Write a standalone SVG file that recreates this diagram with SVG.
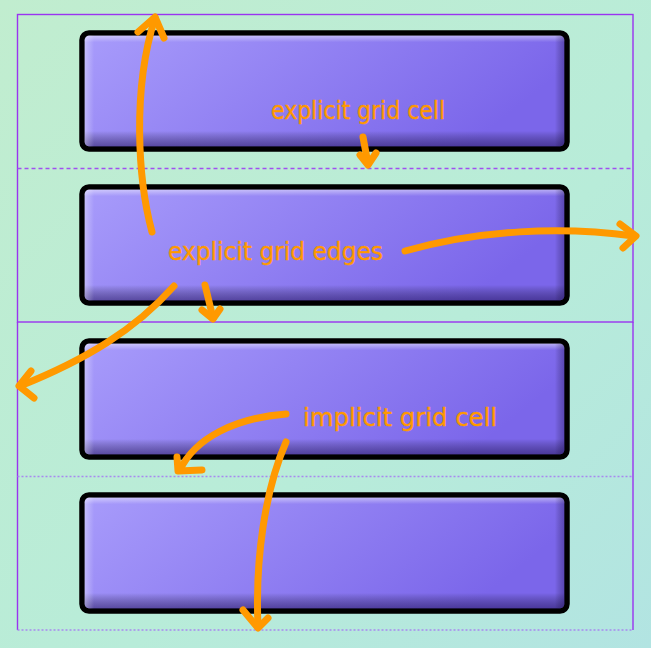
<svg xmlns="http://www.w3.org/2000/svg" width="651" height="648" viewBox="0 0 651 648">
<defs>
<linearGradient id="bg" x1="0" y1="0" x2="1" y2="1">
<stop offset="0" stop-color="#c1edcf"/>
<stop offset="0.6" stop-color="#b8ecd9"/>
<stop offset="1" stop-color="#b2e4e2"/>
</linearGradient>
<linearGradient id="boxfill" x1="0" y1="0" x2="1" y2="0.3">
<stop offset="0" stop-color="#a89cfb"/>
<stop offset="1" stop-color="#7b66ea"/>
</linearGradient>
<linearGradient id="bevelV" x1="0" y1="0" x2="0" y2="1">
<stop offset="0" stop-color="#ffffff" stop-opacity="0.45"/>
<stop offset="0.06" stop-color="#ffffff" stop-opacity="0"/>
<stop offset="0.86" stop-color="#000000" stop-opacity="0"/>
<stop offset="1" stop-color="#1a0a50" stop-opacity="0.5"/>
</linearGradient>
<linearGradient id="bevelH" x1="0" y1="0" x2="1" y2="0">
<stop offset="0" stop-color="#ffffff" stop-opacity="0.35"/>
<stop offset="0.02" stop-color="#ffffff" stop-opacity="0"/>
<stop offset="0.98" stop-color="#000000" stop-opacity="0"/>
<stop offset="1" stop-color="#1a0a50" stop-opacity="0.35"/>
</linearGradient>
</defs>
<style>
.grid{fill:none;stroke:#9a33f0;stroke-width:1.4}
.dash{fill:none;stroke:#a050f0;stroke-width:1.3;stroke-dasharray:4 3}
.dot{fill:none;stroke:#a888f0;stroke-width:1.3;stroke-dasharray:2 2}
.box{fill:url(#boxfill);stroke:#000;stroke-width:5.5}
.bv{fill:url(#bevelV)}
.bh{fill:url(#bevelH)}
.arr{fill:none;stroke:#ff9900;stroke-width:7;stroke-linecap:round;stroke-linejoin:round}
.lbl{font-family:"DejaVu Sans",sans-serif;font-size:25px;fill:#ff9900;stroke:#ff9900;stroke-width:0.4}
</style>
<rect width="651" height="648" fill="url(#bg)"/>
<g id="gridlines">
<rect class="grid" x="17.5" y="14.5" width="615.5" height="307.5"/>
<line class="dash" x1="17.5" y1="168.5" x2="633" y2="168.5"/>
<line class="grid" x1="17.5" y1="322" x2="17.5" y2="630"/>
<line class="grid" x1="633" y1="322" x2="633" y2="630"/>
<line class="dot" x1="17.5" y1="476.5" x2="633" y2="476.5"/>
<line class="dot" x1="17.5" y1="630" x2="633" y2="630"/>
</g>
<g id="box1">
<rect class="box" x="82" y="33" width="485" height="116" rx="7"/>
<rect class="bv" x="84.5" y="35.5" width="480" height="111" rx="5"/>
<rect class="bh" x="84.5" y="35.5" width="480" height="111" rx="5"/>
</g>
<g id="box2">
<rect class="box" x="82" y="187" width="485" height="116" rx="7"/>
<rect class="bv" x="84.5" y="189.5" width="480" height="111" rx="5"/>
<rect class="bh" x="84.5" y="189.5" width="480" height="111" rx="5"/>
</g>
<g id="box3">
<rect class="box" x="82" y="341" width="485" height="116" rx="7"/>
<rect class="bv" x="84.5" y="343.5" width="480" height="111" rx="5"/>
<rect class="bh" x="84.5" y="343.5" width="480" height="111" rx="5"/>
</g>
<g id="box4">
<rect class="box" x="82" y="495" width="485" height="116" rx="7"/>
<rect class="bv" x="84.5" y="497.5" width="480" height="111" rx="5"/>
<rect class="bh" x="84.5" y="497.5" width="480" height="111" rx="5"/>
</g>
<g id="connectors">
<path class="arr" d="M152,232 C138,180 132,90 155,18"/>
<path class="arr" d="M138,32 L155,17 L164,38"/>
<path class="arr" d="M363,137 L368,164"/>
<path class="arr" d="M360,155 L368,165 L376,153"/>
<path class="arr" d="M205,285 L213,318"/>
<path class="arr" d="M202,310 L213,319 L220,309"/>
<path class="arr" d="M405,251 C480,230 560,226 634,236"/>
<path class="arr" d="M620,224 L636,236 L623,248"/>
<path class="arr" d="M174,286 C135,330 85,360 20,386"/>
<path class="arr" d="M31,371 L19,386 L34,398"/>
<path class="arr" d="M286,414 C235,418 195,438 180,470"/>
<path class="arr" d="M177,457 L178,471 L202,470"/>
<path class="arr" d="M286,442 C265,490 255,560 258,626"/>
<path class="arr" d="M243,610 L258,628 L268,618"/>
</g>
<g id="labels">
<text class="lbl" x="271" y="119" textLength="174" lengthAdjust="spacingAndGlyphs">explicit grid cell</text>
<text class="lbl" x="168" y="260" textLength="215" lengthAdjust="spacingAndGlyphs">explicit grid edges</text>
<text class="lbl" x="303" y="426" textLength="194" lengthAdjust="spacingAndGlyphs">implicit grid cell</text>
</g>
</svg>
